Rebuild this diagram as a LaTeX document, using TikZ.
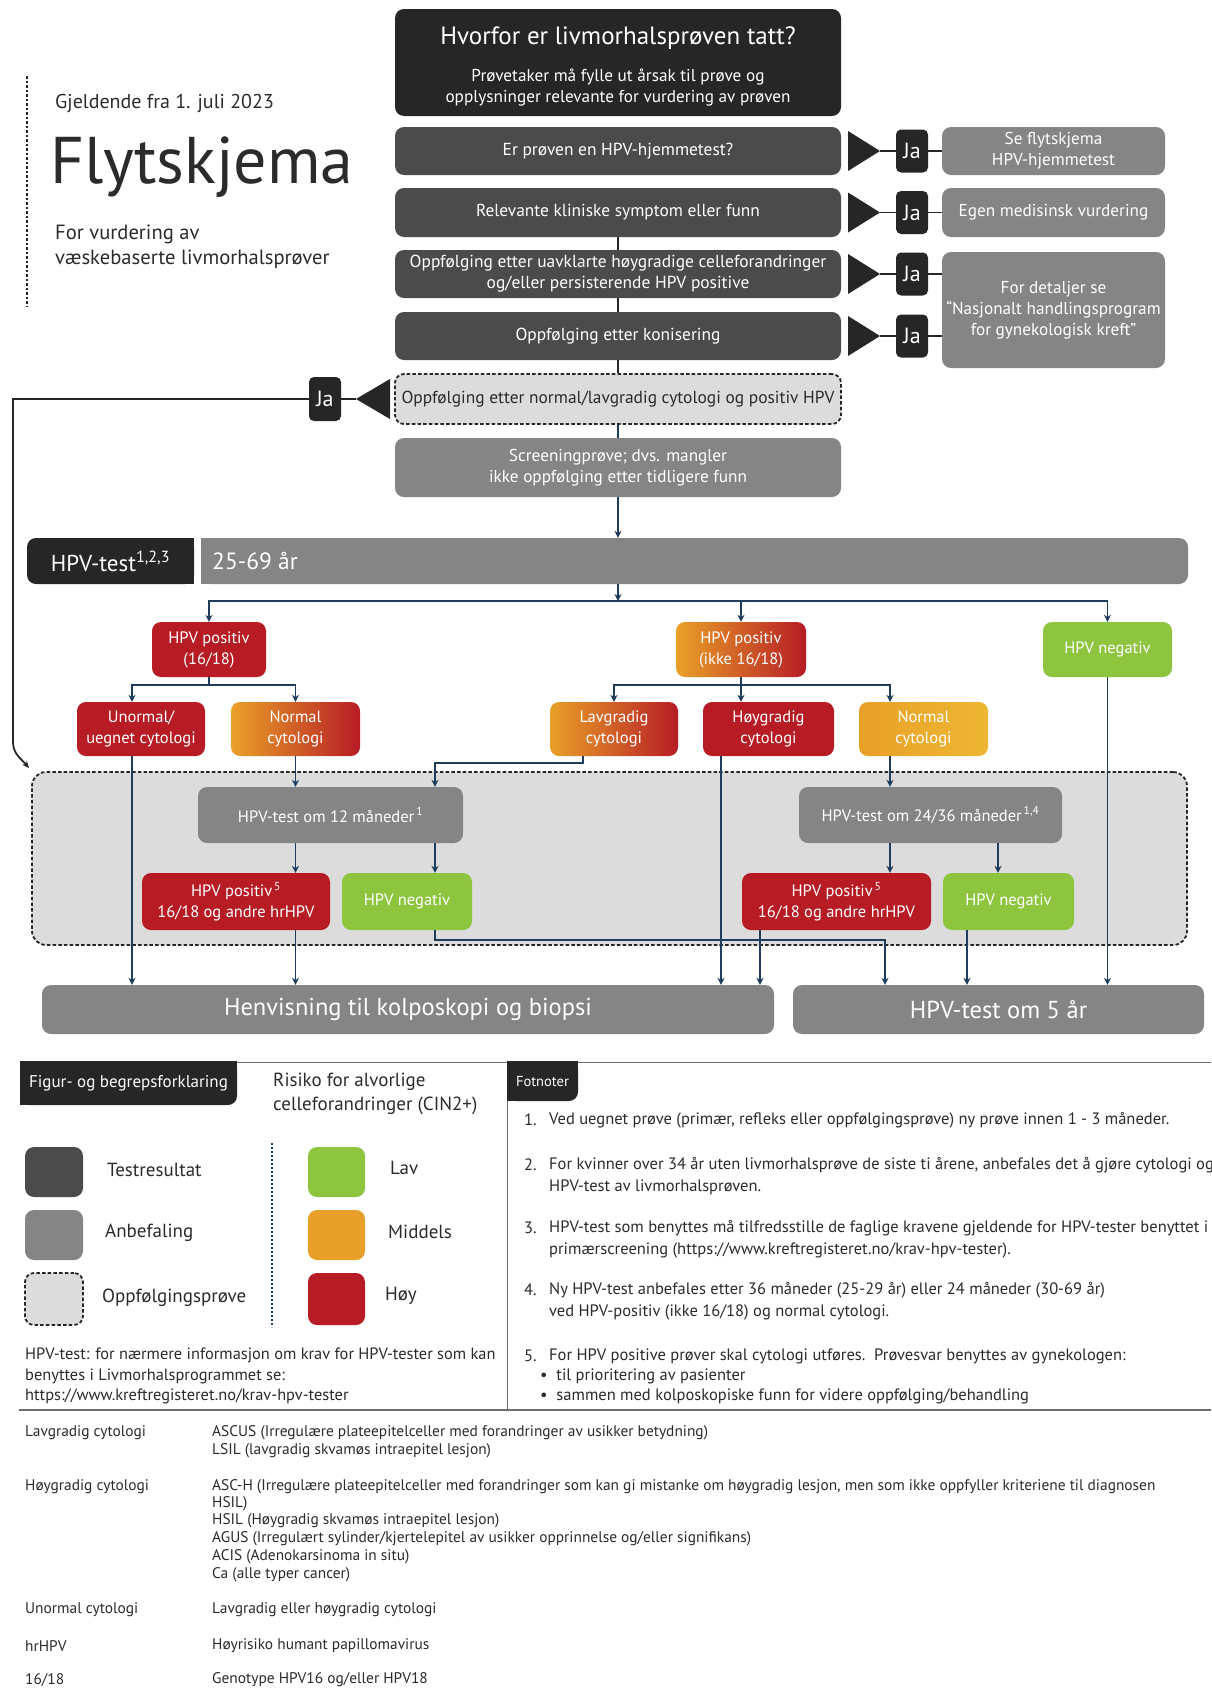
\documentclass[tikz,border=0pt]{standalone}
\usepackage{fontspec}
\setmainfont{PT Sans}
\usetikzlibrary{arrows.meta}
\definecolor{cBlack}{HTML}{262626}
\definecolor{cDark}{HTML}{4B4B4B}
\definecolor{cGray}{HTML}{858585}
\definecolor{cLight}{HTML}{DCDCDC}
\definecolor{cRed}{HTML}{B71C25}
\definecolor{cOrange}{HTML}{E9A028}
\definecolor{cYellow}{HTML}{EDB733}
\definecolor{cGreen}{HTML}{8DC53F}
\definecolor{cBlue}{HTML}{1E3D5C}
\definecolor{cText}{HTML}{2B2B2B}
\definecolor{cRule}{HTML}{6E6E6E}
\newcommand\fsz[2]{\fontsize{#1}{#2}\selectfont}
\newcommand\bxn[7]{\node[#2,minimum width={#5-#3},minimum height={#6-#4}] (#1) at ({(#3+#5)/2},{(#4+#6)/2}) {#7};}
\begin{document}
\begin{tikzpicture}[x=1pt,y=-1pt,
 bx/.style={rectangle,rounded corners=9pt,inner sep=0pt,align=center,text=white},
 blk/.style={bx,fill=cBlack},
 dk/.style={bx,fill=cDark,font=\fsz{17.4}{21}},
 gr/.style={bx,fill=cGray,font=\fsz{17.2}{21}},
 rbox/.style={bx,fill=cRed,font=\fsz{16.5}{21}},
 gbox/.style={bx,left color=cOrange,right color=cRed,font=\fsz{16.5}{21}},
 ybox/.style={bx,left color=cOrange,right color=cYellow,font=\fsz{16.5}{21}},
 grn/.style={bx,fill=cGreen,font=\fsz{16.5}{21}},
 jabox/.style={bx,fill=cBlack,rounded corners=5pt,font=\fsz{22}{24}},
 dsh/.style={bx,fill=cLight,draw=cBlack,line width=1.8pt,dash pattern=on 3.5pt off 2.2pt,text=cText},
 ln/.style={draw=cBlack,line width=1.8pt},
 bl/.style={draw=cBlue,line width=1.8pt},
 arr/.style={bl,-{Stealth[length=7pt,width=7pt]}},
 txt/.style={inner sep=0pt,text=cText},
 fn/.style={txt,anchor=west,font=\fsz{16.5}{19}},
 tb/.style={txt,anchor=west,font=\fsz{15.4}{17}},
 lg/.style={txt,anchor=west,font=\fsz{19}{22}}]
\fill[white] (0,0) rectangle (1211,1689);
\useasboundingbox (0,0) rectangle (1211,1689);
% ---------- header
\draw[cBlack,line width=2.2pt,dash pattern=on 2.5pt off 2pt] (27,76) -- (27,306);
\node[txt,anchor=west,font=\fsz{20}{24}] (gj) at (55,103) {Gjeldende fra 1. juli 2023};
\node[txt,anchor=west,font=\fsz{66}{72}] (fly) at (50,167) {Flytskjema};
\node[txt,anchor=west,align=left,font=\fsz{20.6}{25}] (sub) at (55,247) {For vurdering av\\væskebaserte livmorhalsprøver};
% ---------- question column
\bxn{top}{blk}{395}{9}{841}{116}{}
\node[txt,text=white,font=\fsz{25}{28}] (topt) at (618,38) {Hvorfor er livmorhalsprøven tatt?};
\node[txt,text=white,align=center,font=\fsz{17.2}{21}] (tops) at (618,88) {Prøvetaker må fylle ut årsak til prøve og\\opplysninger relevante for vurdering av prøven};
\bxn{q1}{dk}{395}{127}{841}{175}{Er prøven en HPV-hjemmetest?}
\bxn{q2}{dk}{395}{188}{841}{237}{Relevante kliniske symptom eller funn}
\bxn{q3}{dk}{395}{250}{841}{298}{Oppfølging etter uavklarte høygradige celleforandringer\\og/eller persisterende HPV positive}
\bxn{q4}{dk}{395}{312}{841}{360}{Oppfølging etter konisering}
\bxn{q5}{dsh,font=\fsz{17.4}{21}}{395}{374}{841}{424}{Oppfølging etter normal/lavgradig cytologi og positiv HPV}
\bxn{scr}{gr}{395}{438}{841}{497}{Screeningprøve; dvs. mangler\\ikke oppfølging etter tidligere funn}
\draw[ln] (q2.south) -- (q3.north);
\draw[ln] (q3.south) -- (q4.north);
\draw[ln] (q4.south) -- (q5.north);
\draw[bl] (q5.south) -- (scr.north);
% ---------- Ja rows (right)
\bxn{r1}{gr}{942}{127}{1165}{175}{Se flytskjema\\HPV-hjemmetest}
\bxn{r2}{gr}{942}{188}{1165}{237}{Egen medisinsk vurdering}
\bxn{r3}{gr}{942}{252}{1165}{368}{For detaljer se\\“Nasjonalt handlingsprogram\\for gynekologisk kreft”}
\foreach \n/\c in {1/151,2/212.5,3/274,4/336}{
  \fill[cBlack] (848,\c-20) -- (880,\c) -- (848,\c+20) -- cycle;
  \coordinate (tip\n) at (880,\c);
  \node[jabox,minimum width=32,minimum height=43] (ja\n) at (912,\c) {Ja};
  \draw[ln] (tip\n) -- (ja\n.west);
}
\draw[ln] (ja1.east) -- (r1.west);
\draw[ln] (ja2.east) -- (r2.west);
\draw[ln] (ja3.east) -- (ja3.east -| r3.west);
\draw[ln] (ja4.east) -- (ja4.east -| r3.west);
% ---------- Ja (left)
\fill[cBlack] (390,379) -- (356,399) -- (390,419) -- cycle;
\coordinate (tipL) at (356,399);
\node[jabox,minimum width=32,minimum height=44] (jaL) at (325,399) {Ja};
\draw[ln] (tipL) -- (jaL.east);
\coordinate (lc1) at (13,399);
\coordinate (lc2) at (13,742);
\coordinate (lend) at (29,768);
\draw[ln,-{Stealth[length=7pt,width=6pt]}] (jaL.west) -- (lc1) -- (lc2) to[out=-90,in=130] (lend);
% ---------- HPV-test bar
\fill[cBlack] (110,538) rectangle (194,584);
\bxn{hpvt}{blk,font=\fsz{23}{26}}{27}{538}{194}{584}{HPV-test\textsuperscript{1,2,3}}
\fill[cGray] (201,538) rectangle (600,584);
\bxn{agebar}{bx,fill=cGray}{201}{538}{1188}{584}{}
\node[txt,text=white,anchor=west,font=\fsz{23.5}{26}] (age) at (212,561) {25-69 år};
\draw[arr] (scr.south) -- (scr.south |- agebar.north);
\coordinate (d0) at (618,601);
\draw[arr] (scr.south |- agebar.south) -- (d0);
% ---------- level 1
\bxn{p1}{rbox}{152}{622}{266}{677}{HPV positiv\\(16/18)}
\bxn{p2}{gbox}{676}{622}{806}{677}{HPV positiv\\(ikke 16/18)}
\bxn{n1}{grn}{1043}{622}{1172}{677}{HPV negativ}
\draw[arr] (d0) -| (p1.north);
\draw[arr] (d0) -| (n1.north);
\draw[arr] (p2.north |- d0) -- (p2.north);
% ---------- region
\bxn{region}{dsh,rounded corners=14pt}{32}{772}{1187}{945}{}
% ---------- level 2
\bxn{u1}{rbox}{77}{702}{205}{756}{Unormal/\\uegnet cytologi}
\bxn{nc1}{gbox}{231}{702}{360}{756}{Normal\\cytologi}
\bxn{lav}{gbox}{550}{702}{678}{756}{Lavgradig\\cytologi}
\bxn{hoy}{rbox}{703}{702}{834}{756}{Høygradig\\cytologi}
\bxn{nc2}{ybox}{859}{702}{988}{756}{Normal\\cytologi}
% ---------- follow-up tests
\bxn{m12}{gr,font=\fsz{16.5}{20}}{198}{787}{463}{843}{HPV-test om 12 måneder\textsuperscript{\,1}}
\bxn{m24}{gr,font=\fsz{16.5}{20}}{799}{787}{1062}{843}{HPV-test om 24/36 måneder\textsuperscript{\,1,4}}
\bxn{pp1}{rbox}{142}{873}{330}{930}{HPV positiv\textsuperscript{\,5}\\16/18 og andre hrHPV}
\bxn{pn1}{grn}{342}{873}{472}{930}{HPV negativ}
\bxn{pp2}{rbox}{742}{873}{931}{930}{HPV positiv\textsuperscript{\,5}\\16/18 og andre hrHPV}
\bxn{pn2}{grn}{943}{873}{1074}{930}{HPV negativ}
\bxn{hen}{gr,font=\fsz{24.5}{28}}{42}{985}{774}{1034}{Henvisning til kolposkopi og biopsi}
\bxn{fem}{gr,font=\fsz{24.5}{28}}{793}{985}{1204}{1034}{HPV-test om 5 år}
% ---------- connectors level 2 and below
\coordinate (h1) at (209,685);
\coordinate (h2) at (741,685);
\coordinate (cu) at ([xshift=-9pt]u1.south);
\coordinate (cl) at ([xshift=-31pt]lav.south);
\coordinate (lk) at (435,763);
\coordinate (ch) at ([xshift=-47.5pt]hoy.south);
\coordinate (cn) at ([xshift=-33.5pt]nc2.south);
\coordinate (cm) at ([xshift=67.5pt]m24.south);
\coordinate (cp2) at ([xshift=-76.5pt]pp2.south);
\coordinate (cpn2) at ([xshift=-41.5pt]pn2.south);
\coordinate (nk) at (885,940);
\draw[bl] (p1.south) -- (h1);
\draw[arr] (h1) -| (cu |- u1.north);
\draw[arr] (h1) -| (nc1.north);
\draw[bl] (p2.south) -- (h2);
\draw[arr] (h2) -| (lav.north);
\draw[arr] (h2) -- (h2 |- hoy.north);
\draw[arr] (h2) -| (cn |- nc2.north);
\draw[arr] (cu) -- (cu |- hen.north);
\draw[arr] (nc1.south) -- (nc1.south |- m12.north);
\draw[arr] (cl) |- (lk) -- (lk |- m12.north);
\draw[arr] (nc1.south |- m12.south) -- (nc1.south |- pp1.north);
\draw[arr] (lk |- m12.south) -- (lk |- pn1.north);
\draw[arr] (nc1.south |- pp1.south) -- (nc1.south |- hen.north);
\draw[arr] (lk |- pn1.south) |- (nk) -- (nk |- fem.north);
\draw[arr] (ch) -- (ch |- hen.north);
\draw[arr] (cn) -- (cn |- m24.north);
\draw[arr] (cn |- m24.south) -- (cn |- pp2.north);
\draw[arr] (cm) -- (cm |- pn2.north);
\draw[arr] (cp2) -- (cp2 |- hen.north);
\draw[arr] (cpn2) -- (cpn2 |- fem.north);
\draw[arr] (n1.south) -- (n1.south |- fem.north);
% ---------- legend frame
\draw[cRule,line width=0.9pt] (237,1062) -- (1211,1062);
\draw[cRule,line width=1pt] (507,1062) -- (507,1410);
\draw[cRule,line width=2.6pt] (19,1410) -- (1211,1410);
\fill[cBlack] (20,1061) rectangle (237,1083);
\fill[cBlack] (20,1061) rectangle (120,1105);
\bxn{figtab}{blk,font=\fsz{17}{20}}{20}{1061}{237}{1105}{Figur- og begrepsforklaring}
\fill[cBlack] (507,1061) rectangle (578,1083);
\fill[cBlack] (507,1061) rectangle (540,1101);
\bxn{fottab}{blk,font=\fsz{14.5}{17}}{507}{1061}{578}{1101}{Fotnoter}
\node[txt,anchor=west,align=left,font=\fsz{19}{24}] (risk) at (273,1094) {Risiko for alvorlige\\celleforandringer (CIN2+)};
\bxn{sw1}{bx,fill=cDark}{25}{1147}{83}{1197}{}
\bxn{sw2}{bx,fill=cGray}{25}{1210}{83}{1260}{}
\bxn{sw3}{dsh}{25}{1273}{83}{1325}{}
\bxn{sw4}{bx,fill=cGreen}{308}{1147}{365}{1197}{}
\bxn{sw5}{bx,fill=cOrange}{308}{1210}{365}{1260}{}
\bxn{sw6}{bx,fill=cRed}{308}{1273}{365}{1325}{}
\node[lg] (l1) at (107,1170) {Testresultat};
\node[lg] (l2) at (105,1233) {Anbefaling};
\node[lg] (l3) at (102,1298) {Oppfølgingsprøve};
\node[lg] (l4) at (390,1168) {Lav};
\node[lg] (l5) at (388,1232) {Middels};
\node[lg] (l6) at (385,1296) {Høy};
\draw[cBlue,line width=2pt,dash pattern=on 2pt off 2pt] (272,1143) -- (272,1327);
\node[txt,anchor=west,align=left,font=\fsz{16.4}{20.5}] (hpvinfo) at (25,1376) {HPV-test: for nærmere informasjon om krav for HPV-tester som kan\\benyttes i Livmorhalsprogrammet se:\\https://www.kreftregisteret.no/krav-hpv-tester};
% ---------- footnotes
\begin{scope}
\clip (508,1063) rectangle (1211,1408);
\node[fn] (f1n) at (524,1120) {1.};
\node[fn] (f1) at (549,1120) {Ved uegnet prøve (primær, refleks eller oppfølgingsprøve) ny prøve innen 1 - 3 måneder.};
\node[fn] (f2n) at (524,1165) {2.};
\node[fn] (f2a) at (549,1165) {For kvinner over 34 år uten livmorhalsprøve de siste ti årene, anbefales det å gjøre cytologi og};
\node[fn] (f2b) at (549,1187) {HPV-test av livmorhalsprøven.};
\node[fn] (f3n) at (524,1228) {3.};
\node[fn] (f3a) at (549,1228) {HPV-test som benyttes må tilfredsstille de faglige kravene gjeldende for HPV-tester benyttet i};
\node[fn] (f3b) at (549,1250) {primærscreening (https://www.kreftregisteret.no/krav-hpv-tester).};
\node[fn] (f4n) at (524,1290) {4.};
\node[fn] (f4a) at (549,1290) {Ny HPV-test anbefales etter 36 måneder (25-29 år) eller 24 måneder (30-69 år)};
\node[fn] (f4b) at (549,1312) {ved HPV-positiv (ikke 16/18) og normal cytologi.};
\node[fn] (f5n) at (524,1356) {5.};
\node[fn] (f5a) at (549,1356) {For HPV positive prøver skal cytologi utføres.\ \ Prøvesvar benyttes av gynekologen:};
\node[fn] (f5b) at (540,1376) {•\ \ til prioritering av pasienter};
\node[fn] (f5c) at (540,1396) {•\ \ sammen med kolposkopiske funn for videre oppfølging/behandling};
\end{scope}
% ---------- glossary
\node[tb] (g1) at (25,1433) {Lavgradig cytologi};
\node[tb] (g1a) at (212,1433) {ASCUS (Irregulære plateepitelceller med forandringer av usikker betydning)};
\node[tb] (g1b) at (212,1451) {LSIL (lavgradig skvamøs intraepitel lesjon)};
\node[tb] (g2) at (25,1487) {Høygradig cytologi};
\node[tb] (g2a) at (212,1487) {ASC-H (Irregulære plateepitelceller med forandringer som kan gi mistanke om høygradig lesjon, men som ikke oppfyller kriteriene til diagnosen};
\node[tb] (g2b) at (212,1504) {HSIL)};
\node[tb] (g2c) at (212,1521) {HSIL (Høygradig skvamøs intraepitel lesjon)};
\node[tb] (g2d) at (212,1539) {AGUS (Irregulært sylinder/kjertelepitel av usikker opprinnelse og/eller signifikans)};
\node[tb] (g2e) at (212,1557) {ACIS (Adenokarsinoma in situ)};
\node[tb] (g2f) at (212,1575) {Ca (alle typer cancer)};
\node[tb] (g3) at (25,1610) {Unormal cytologi};
\node[tb] (g3a) at (212,1610) {Lavgradig eller høygradig cytologi};
\node[tb] (g4) at (25,1646) {hrHPV};
\node[tb] (g4a) at (212,1646) {Høyrisiko humant papillomavirus};
\node[tb] (g5) at (25,1680) {16/18};
\node[tb] (g5a) at (212,1680) {Genotype HPV16 og/eller HPV18};
\end{tikzpicture}
\end{document}
